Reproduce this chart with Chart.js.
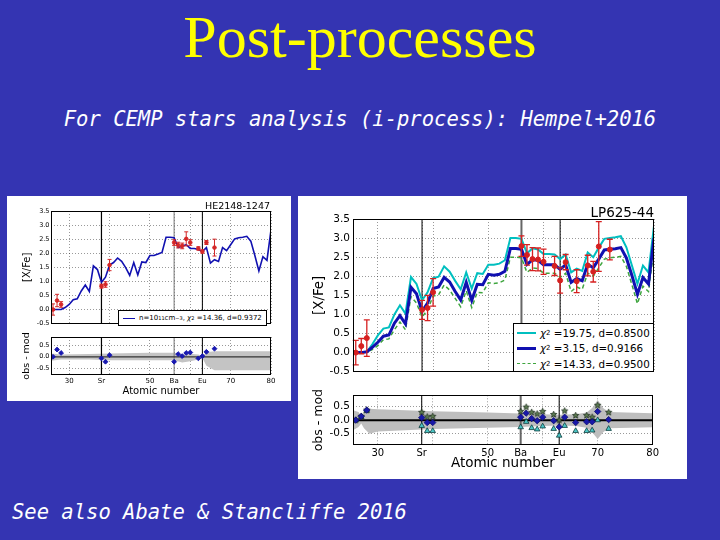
<!DOCTYPE html>
<html>
<head>
<meta charset="utf-8">
<script src="https://cdn.jsdelivr.net/npm/chart.js@4.4.1/dist/chart.umd.min.js"></script>
<style>
  html, body { margin: 0; padding: 0; }
  body { width: 720px; height: 540px; background: #3434b2; position: relative; overflow: hidden; font-family: "DejaVu Sans", sans-serif; }
  .abs { position: absolute; white-space: pre; }
  #title { left: 0; width: 720px; top: 7px; text-align: center; font: 60px/60px "Liberation Serif", serif; color: #ffff00; }
  #subtitle { left: 0; width: 720px; top: 109px; text-align: center; font: italic 20.5px/20.5px "DejaVu Sans Mono", monospace; color: #fff; }
  #footnote { left: 12px; top: 502px; font: italic 20.5px/20.5px "DejaVu Sans Mono", monospace; color: #fff; }
  .panel { position: absolute; background: #fff; }
  canvas { position: absolute; }
  .name { position: absolute; color: #000; text-align: right; white-space: pre; }
  .legend { position: absolute; background: #fff; border: 1px solid #000; box-sizing: border-box; color: #000; }
  .row { display: flex; align-items: center; white-space: pre; }
  .sample { display: inline-block; }
  sup { line-height: 0; }
</style>
</head>
<body>
<div id="title" class="abs">Post-processes</div>
<div id="subtitle" class="abs">For CEMP stars analysis (i-process): Hempel+2016</div>
<div id="footnote" class="abs">See also Abate &amp; Stancliffe 2016</div>

<div class="panel" style="left:7px; top:196px; width:284px; height:205px;"></div>
<div class="panel" style="left:298px; top:196px; width:389px; height:283px;"></div>

<canvas id="leftTop" width="282" height="133" style="left:8px; top:196px;"></canvas>
<canvas id="leftRes" width="282" height="68" style="left:8px; top:331px;"></canvas>
<canvas id="rightTop" width="363" height="181" style="left:298px; top:200px;"></canvas>
<canvas id="rightRes" width="363" height="88" style="left:298px; top:386px;"></canvas>

<div class="name" style="right:450px; top:201px; font-size:9.5px; line-height:9.5px;">HE2148-1247</div>
<div class="name" style="right:66px; top:206px; font-size:13.5px; line-height:13.5px;">LP625-44</div>

<div class="legend" style="left:118px; top:310px; width:149px; height:16px; font-size:7px;">
  <div class="row" style="height:14px;"><span class="sample" style="width:12px; margin:0 4px 0 4px; border-top:1.5px solid #1010b0;"></span>n=10<sup style="font-size:5px">11</sup>cm<sup style="font-size:5px">−3</sup>, <i>χ</i><sup style="font-size:5px">2</sup> =14.36, d=0.9372</div>
</div>

<div class="legend" style="left:513px; top:323px; width:141px; height:49px; font-size:10.3px; padding-top:1px;">
  <div class="row" style="height:15.5px;"><span class="sample" style="width:19px; margin:0 4px 0 3px; border-top:2px solid #00bfbf;"></span><i>χ</i><sup style="font-size:7px">2</sup> =19.75, d=0.8500</div>
  <div class="row" style="height:15.5px;"><span class="sample" style="width:19px; margin:0 4px 0 3px; border-top:3px solid #1010b0;"></span><i>χ</i><sup style="font-size:7px">2</sup> =3.15, d=0.9166</div>
  <div class="row" style="height:15.5px;"><span class="sample" style="width:19px; margin:0 4px 0 3px; border-top:1.5px dashed #3ea53e;"></span><i>χ</i><sup style="font-size:7px">2</sup> =14.33, d=0.9500</div>
</div>

<script>
/* ── atomic numbers of the model curves ───────────── */
const zModel = [26,27,28,29,30,31,32,33,34,35,36,37,38,39,40,41,42,43,44,45,46,47,48,49,50,51,52,53,
                54,55,56,57,58,59,60,61,62,63,64,65,66,67,68,69,70,71,72,73,74,75,76,77,78,79,80];

/* ── axis layout values ───────────────────────────── */
const xMin = 25.5, xMax = 80;
const xTickVals = [30, 38, 40, 50, 56, 60, 63, 70, 80];
const xTickText = ["30", "Sr", "", "50", "Ba", "", "Eu", "70", "80"];
const yTopTicks = [-0.5, 0, 0.5, 1, 1.5, 2, 2.5, 3, 3.5];
const yResTicks = [-0.5, 0, 0.5];
const elemZ = [38, 56, 63];

/* ── LP625-44 (right) ─────────────────────────────── */
const modelR_d0850 = [0,0,0.02,0.22,0.45,0.63,0.66,1.0,1.24,1.02,1.98,1.8,1.37,1.58,1.95,1.99,2.26,2.12,1.88,1.66,
                      2.1,1.68,2.08,2.06,2.3,2.3,2.33,2.42,3.0,3.0,2.98,2.6,2.73,2.7,2.58,2.58,2.57,2.45,2.57,2.1,
                      2.2,2.14,2.62,2.5,2.75,2.98,3.0,3.02,3.05,2.76,2.28,1.8,2.28,2.1,3.32];
const modelR_d0917 = [0,0,0.02,0.14,0.27,0.43,0.46,0.77,0.97,0.75,1.71,1.54,1.08,1.3,1.68,1.72,1.97,1.85,1.6,1.38,
                      1.84,1.37,1.79,1.78,2.05,2.03,2.05,2.13,2.73,2.73,2.71,2.31,2.43,2.42,2.3,2.3,2.3,2.18,2.3,1.84,
                      1.94,1.88,2.32,2.22,2.45,2.69,2.71,2.72,2.75,2.48,2.02,1.53,1.97,1.8,3.0];
const modelR_d0950 = [0,0,0.02,0.08,0.18,0.34,0.36,0.6,0.8,0.6,1.47,1.3,0.93,1.12,1.48,1.52,1.77,1.64,1.42,1.2,
                      1.62,1.18,1.58,1.57,1.83,1.81,1.83,1.9,2.5,2.5,2.48,2.1,2.22,2.2,2.08,2.08,2.08,1.97,2.08,1.6,
                      1.72,1.66,2.08,2.0,2.22,2.45,2.48,2.5,2.52,2.26,1.78,1.28,1.74,1.6,2.72];
const obsZR   = [26,27,28,38,39,40,56,57,58,59,60,62,63,64,66,68,69,70,72];
const obsValR = [0.0,0.17,0.38,1.12,1.17,1.58,2.79,2.56,2.45,2.44,2.38,2.27,1.89,2.37,1.87,2.28,2.12,2.78,2.7];
const obsErrR = [0.32,0.2,0.48,0.25,0.33,0.36,0.27,0.27,0.3,0.3,0.33,0.25,0.33,0.2,0.3,0.27,0.27,0.65,0.27];
const resStarR = [0.0,0.14,0.37,0.29,0.12,0.14,0.32,0.48,0.29,0.23,0.32,0.21,0.0,0.34,0.17,0.17,0.11,0.55,0.29];
const resBlueR = [0.0,0.14,0.37,0.09,-0.09,-0.09,0.11,0.26,0.06,-0.02,0.11,-0.02,-0.25,0.11,-0.09,-0.06,-0.06,0.32,0.02];
const resTriR  = [0.0,0.12,0.35,-0.21,-0.4,-0.4,-0.26,-0.06,-0.29,-0.34,-0.23,-0.32,-0.57,-0.21,-0.4,-0.4,-0.38,0.0,-0.32];
const bandZR  = [25.5,26.5,27,27.5,28.5,30,40,50,56,60,63,66,68,69,70,71,72,80];
const bandHiR = [0.37,0.3,0.15,0.35,0.42,0.4,0.33,0.28,0.25,0.22,0.2,0.22,0.28,0.45,0.75,0.45,0.3,0.26];
const bandLoR = [-0.37,-0.25,-0.12,-0.3,-0.5,-0.42,-0.33,-0.28,-0.25,-0.22,-0.2,-0.22,-0.28,-0.45,-0.7,-0.45,-0.3,-0.26];

/* ── HE2148-1247 (left) ───────────────────────────── */
const modelL = [0,0,0,0.07,0.18,0.35,0.38,0.66,0.87,0.64,1.55,1.42,0.97,1.15,1.58,1.67,1.83,1.71,1.49,1.21,
                1.67,1.23,1.69,1.67,1.92,1.92,1.97,2.03,2.57,2.57,2.55,2.2,2.25,2.3,2.17,2.17,2.13,2.06,2.2,1.65,
                1.77,1.71,2.2,2.09,2.3,2.51,2.55,2.57,2.6,2.43,1.92,1.37,1.88,1.75,2.83];
const obsZL   = [26,27,28,38,39,40,56,57,58,59,60,62,63,64,66];
const obsValL = [0.0,0.32,0.18,0.83,0.89,1.58,2.38,2.29,2.26,2.51,2.38,2.17,2.06,2.38,2.2];
const obsErrL = [0.2,0.22,0.1,0.07,0.1,0.2,0.1,0.1,0.1,0.25,0.1,0.06,0.06,0.07,0.3];
const resL    = [0.0,0.32,0.17,-0.07,-0.22,0.07,-0.22,0.12,0.03,0.17,0.19,-0.07,0.03,0.22,0.36];
const bandZL  = [25.5,28,35,40,50,56,58,60,62,63,64,66,80];
const bandHiL = [0.15,0.1,0.12,0.15,0.18,0.18,0.1,0.13,0.1,0.05,0.2,0.25,0.25];
const bandLoL = [-0.18,-0.12,-0.12,-0.15,-0.15,-0.15,-0.25,-0.2,-0.12,-0.05,-0.4,-0.6,-0.6];

/* ── helpers ──────────────────────────────────────── */
const FONT = "DejaVu Sans";
const pts = (xs, ys) => xs.map((x, i) => ({ x, y: ys[i] }));
const line = (xs, ys, extra) => Object.assign({ data: pts(xs, ys), showLine: true, pointRadius: 0, fill: false }, extra);
const scatter = (xs, ys, extra) => Object.assign({ data: pts(xs, ys), showLine: false }, extra);

function starImage(r, fill, stroke) {
  const c = document.createElement("canvas");
  const s = Math.ceil(r * 2 + 2);
  c.width = s; c.height = s;
  const g = c.getContext("2d");
  g.beginPath();
  for (let i = 0; i < 10; i++) {
    const rad = i % 2 ? r * 0.45 : r;
    const a = -Math.PI / 2 + i * Math.PI / 5;
    g.lineTo(s / 2 + rad * Math.cos(a), s / 2 + rad * Math.sin(a));
  }
  g.closePath();
  g.fillStyle = fill; g.fill();
  g.strokeStyle = stroke; g.lineWidth = 0.8; g.stroke();
  return c;
}

// Sr / Ba / Eu reference lines, spanning the y range of the axes
function elemLines(yLo, yHi, widths, colors) {
  return elemZ.map((z, i) => line([z, z], [yLo, yHi], { borderColor: colors[i], borderWidth: widths[i], order: 8 }));
}

/* ── plugins ──────────────────────────────────────── */
const frame = {
  id: "frame",
  afterDraw(chart) {
    const { ctx, chartArea: c } = chart;
    ctx.save();
    ctx.strokeStyle = "#000";
    ctx.lineWidth = 1;
    ctx.strokeRect(Math.round(c.left) + 0.5, Math.round(c.top) + 0.5,
                   Math.round(c.right - c.left) - 1, Math.round(c.bottom - c.top) - 1);
    ctx.restore();
  }
};

const errorBars = {
  id: "errorBars",
  afterDatasetsDraw(chart, args, o) {
    if (!o || !o.z) return;
    const { ctx } = chart;
    const xs = chart.scales.x, ys = chart.scales.y;
    ctx.save();
    ctx.strokeStyle = o.color;
    ctx.lineWidth = o.width;
    o.z.forEach((z, i) => {
      const px = xs.getPixelForValue(z);
      const top = ys.getPixelForValue(o.val[i] + o.err[i]);
      const bot = ys.getPixelForValue(o.val[i] - o.err[i]);
      ctx.beginPath();
      ctx.moveTo(px, top); ctx.lineTo(px, bot);
      ctx.moveTo(px - o.cap, top); ctx.lineTo(px + o.cap, top);
      ctx.moveTo(px - o.cap, bot); ctx.lineTo(px + o.cap, bot);
      ctx.stroke();
    });
    ctx.restore();
  }
};

/* ── scale builders ───────────────────────────────── */
const gridStyle = { color: "rgba(0,0,0,0.5)", lineWidth: 0.8, drawTicks: false };

function xScale(h, showLabels, fontSize, titleText, titleSize) {
  return {
    type: "linear", min: xMin, max: xMax,
    afterBuildTicks: s => { s.ticks = xTickVals.map(v => ({ value: v })); },
    afterFit: s => { s.height = h; },
    grid: gridStyle,
    border: { display: false, dash: [1, 2] },
    ticks: {
      display: showLabels, autoSkip: false, maxRotation: 0, minRotation: 0,
      padding: 2, color: "#000", font: { family: FONT, size: fontSize },
      callback: v => xTickText[xTickVals.indexOf(v)]
    },
    title: { display: !!titleText, text: titleText || "", color: "#000",
             font: { family: FONT, size: titleSize || 10 }, padding: { top: 0, bottom: 2 } }
  };
}

function yScale(min, max, ticks, w, fontSize, titleText, titleSize, titlePad, tickPad) {
  return {
    type: "linear", min, max,
    afterBuildTicks: s => { s.ticks = ticks.map(v => ({ value: v })); },
    afterFit: s => { s.width = w; },
    grid: gridStyle,
    border: { display: false, dash: [1, 2] },
    ticks: { color: "#000", padding: tickPad, font: { family: FONT, size: fontSize }, callback: v => v.toFixed(1) },
    title: { display: true, text: titleText, color: "#000",
             font: { family: FONT, size: titleSize }, padding: { top: titlePad, bottom: 0 } }
  };
}

function baseOptions(padding, scales, extraPlugins) {
  return {
    responsive: false, animation: false,
    layout: { padding },
    scales,
    plugins: Object.assign({ legend: { display: false }, tooltip: { enabled: false } }, extraPlugins || {})
  };
}

/* ── right: LP625-44 ──────────────────────────────── */
new Chart(document.getElementById("rightTop"), {
  type: "scatter",
  data: {
    datasets: [
      line(zModel, modelR_d0917, { borderColor: "#1010b0", borderWidth: 3, order: 4 }),
      line(zModel, modelR_d0850, { borderColor: "#00bfbf", borderWidth: 2, order: 5 }),
      line(zModel, modelR_d0950, { borderColor: "#3ea53e", borderWidth: 1.5, borderDash: [4, 3], order: 6 }),
      ...elemLines(-0.5, 3.5, [1, 2, 1], ["#000", "#666", "#000"]),
      scatter(obsZR, obsValR, { pointRadius: 2.5, backgroundColor: "#d62020", borderColor: "#d62020", order: 1 })
    ]
  },
  options: baseOptions({ top: 19, right: 7, left: 0, bottom: 0 }, {
    x: xScale(2, false, 10),
    y: yScale(-0.5, 3.5, yTopTicks, 55, 10.5, "[X/Fe]", 13.4, 13, 3)
  }, { errorBars: { z: obsZR, val: obsValR, err: obsErrR, color: "#d62020", width: 1.3, cap: 3 } }),
  plugins: [frame, errorBars]
});

const starR = starImage(3.3, "#5e7e52", "#1b2b1b");
new Chart(document.getElementById("rightRes"), {
  type: "scatter",
  data: {
    datasets: [
      line(bandZR, bandHiR, { borderWidth: 0, fill: "+1", backgroundColor: "#bebebe", order: 10 }),
      line(bandZR, bandLoR, { borderWidth: 0, order: 10 }),
      ...elemLines(-0.92, 0.92, [1, 2, 1], ["#000", "#666", "#000"]),
      line([xMin, xMax], [0, 0], { borderColor: "#000", borderWidth: 2, order: 7 }),
      scatter(obsZR, resTriR, { pointStyle: "triangle", pointRadius: 3.2, backgroundColor: "#4cc6c6", borderColor: "#0b3b3b", borderWidth: 0.8, order: 3 }),
      scatter(obsZR, resStarR, { pointStyle: starR, order: 2 }),
      scatter(obsZR, resBlueR, { pointStyle: "rectRot", pointRadius: 3.2, backgroundColor: "#1818a8", borderColor: "#0c0c70", borderWidth: 0.8, order: 1 })
    ]
  },
  options: baseOptions({ top: 6, right: 7, left: 0, bottom: 0 }, {
    x: xScale(29, true, 10, "Atomic number", 13.5),
    y: yScale(-0.92, 0.92, yResTicks, 55, 10.5, "obs - mod", 12.5, 13, 3)
  }),
  plugins: [frame]
});

/* ── left: HE2148-1247 ────────────────────────────── */
new Chart(document.getElementById("leftTop"), {
  type: "scatter",
  data: {
    datasets: [
      line(zModel, modelL, { borderColor: "#1010b0", borderWidth: 1.6, order: 4 }),
      ...elemLines(-0.5, 3.5, [1.2, 1, 1], ["#000", "#777", "#000"]),
      scatter(obsZL, obsValL, { pointRadius: 1.8, backgroundColor: "#d42828", borderColor: "#d42828", order: 1 })
    ]
  },
  options: baseOptions({ top: 15, right: 19, left: 0, bottom: 0 }, {
    x: xScale(2, false, 7),
    y: yScale(-0.5, 3.5, yTopTicks, 43, 6.5, "[X/Fe]", 10, 13, 1.5)
  }, { errorBars: { z: obsZL, val: obsValL, err: obsErrL, color: "#d42828", width: 1, cap: 2 } }),
  plugins: [frame, errorBars]
});

new Chart(document.getElementById("leftRes"), {
  type: "scatter",
  data: {
    datasets: [
      line(bandZL, bandHiL, { borderWidth: 0, fill: "+1", backgroundColor: "#c4c4c4", order: 10 }),
      line(bandZL, bandLoL, { borderWidth: 0, order: 10 }),
      ...elemLines(-0.81, 0.88, [1.2, 1, 1], ["#000", "#777", "#000"]),
      line([xMin, xMax], [0, 0], { borderColor: "#333", borderWidth: 1.2, order: 7 }),
      scatter(obsZL, resL, { pointStyle: "rectRot", pointRadius: 2.4, backgroundColor: "#1818b0", borderColor: "#1818b0", order: 1 })
    ]
  },
  options: baseOptions({ top: 6, right: 19, left: 0, bottom: 0 }, {
    x: xScale(24, true, 7, "Atomic number", 10),
    y: yScale(-0.81, 0.88, yResTicks, 43, 6.5, "obs - mod", 9.5, 13, 1.5)
  }),
  plugins: [frame]
});
</script>
</body>
</html>
